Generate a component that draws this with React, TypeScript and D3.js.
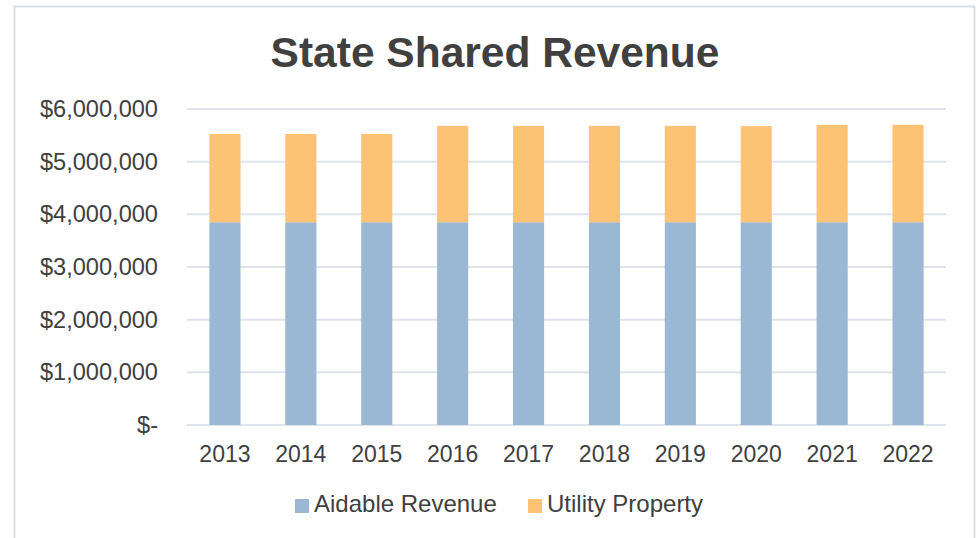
import React from "react";
import * as d3 from "d3";

const years = ["2013", "2014", "2015", "2016", "2017", "2018", "2019", "2020", "2021", "2022"];
const aidableRevenue = [3850000, 3850000, 3850000, 3850000, 3850000, 3850000, 3850000, 3850000, 3850000, 3850000];
const utilityProperty = [1675000, 1675000, 1675000, 1830000, 1830000, 1830000, 1830000, 1825000, 1850000, 1850000];
const yTicks = [0, 1000000, 2000000, 3000000, 4000000, 5000000, 6000000];
const seriesNames = ["Aidable Revenue", "Utility Property"];
const seriesColors = ["#9ab8d3", "#fdc374"];

const W = 977;
const H = 538;
const FONT = "'Liberation Sans', Arial, sans-serif";
const TEXT = "#404040";

export default function App() {
  const x = d3.scaleBand<string>().domain(years).range([187, 946]).paddingInner(0.59).paddingOuter(0.295);
  const y = d3.scaleLinear().domain([0, 6000000]).range([425, 109]);
  const fmt = (v: number) => (v === 0 ? "$-" : "$" + d3.format(",")(v));

  const rows = years.map((yr, i) => ({ yr, a: aidableRevenue[i], u: utilityProperty[i] }));

  return (
    <svg width={W} height={H} style={{ position: "absolute", left: 0, top: 0, background: "#fff" }} fontFamily={FONT}>
      <rect x={0} y={0} width={W} height={H} fill="#fff" />
      <rect x={14.5} y={6.5} width={960} height={600} fill="#fff" stroke="#dadee6" strokeWidth={2} />
      <text x={495} y={67} textAnchor="middle" fontSize={42.5} fontWeight="bold" fill={TEXT}>
        State Shared Revenue
      </text>
      {yTicks.map((t) => (
        <g key={t}>
          <line x1={187} x2={946} y1={y(t)} y2={y(t)} stroke="#e0e3e9" strokeWidth={2} />
          <text x={158} y={y(t) + 8} textAnchor="end" fontSize={23.6} fill={TEXT}>
            {fmt(t)}
          </text>
        </g>
      ))}
      {rows.map((r) => (
        <g key={r.yr}>
          <rect x={x(r.yr)} y={y(r.a)} width={x.bandwidth()} height={y(0) - y(r.a)} fill={seriesColors[0]} />
          <rect x={x(r.yr)} y={y(r.a + r.u)} width={x.bandwidth()} height={y(r.a) - y(r.a + r.u)} fill={seriesColors[1]} />
          <text x={(x(r.yr) as number) + x.bandwidth() / 2} y={462} textAnchor="middle" fontSize={23} fill={TEXT}>
            {r.yr}
          </text>
        </g>
      ))}
      {seriesNames.map((n, i) => {
        const lx = i === 0 ? 295 : 528;
        return (
          <g key={n}>
            <rect x={lx} y={499} width={14} height={14} fill={seriesColors[i]} />
            <text x={lx + 19} y={512} fontSize={24} fill={TEXT}>
              {n}
            </text>
          </g>
        );
      })}
    </svg>
  );
}
